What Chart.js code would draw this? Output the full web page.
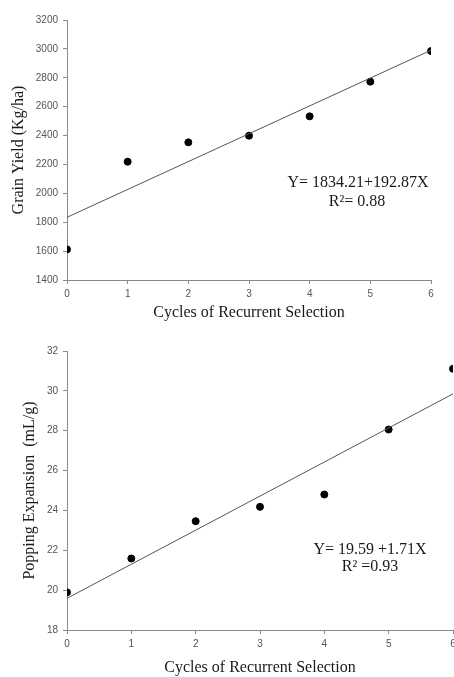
<!DOCTYPE html>
<html>
<head>
<meta charset="utf-8">
<script src="https://cdn.jsdelivr.net/npm/chart.js@4"></script>
<style>
  body { margin: 0; background: #fff; }
  #wrap { position: relative; width: 454px; height: 677px; overflow: hidden; }
  #yieldChart { position: absolute; left: 0; top: 0; }
  #popChart { position: absolute; left: 0; top: 330px; }
</style>
</head>
<body>
<div id="wrap">
  <canvas id="yieldChart" width="454" height="330"></canvas>
  <canvas id="popChart" width="462" height="347"></canvas>
</div>
<script>
// cycles of recurrent selection
const cycles = [0, 1, 2, 3, 4, 5, 6];

// grain yield (Kg/ha)
const grainYield = [1612, 2219, 2353, 2399, 2533, 2773, 2985];
// popping expansion (mL/g)
const poppingExp = [19.89, 21.59, 23.46, 24.18, 24.80, 28.06, 31.11];

// fitted lines, read at x = 0 and x = 6
const trendX = [0, 6];
const yieldTrend = [1834, 2991];
const popTrend = [19.59, 29.85];

const yieldTicks = [1400, 1600, 1800, 2000, 2200, 2400, 2600, 2800, 3000, 3200];
const popTicks = [18, 20, 22, 24, 26, 28, 30, 32];

const axisGray = '#8a8a8a';
const tickFont = { family: 'Liberation Sans', size: 10 };
const titleFont = { family: 'Liberation Serif', size: 16 };

// draws the equation text inside the plot
const equationPlugin = {
    id: 'equation',
    afterDatasetsDraw(chart, args, opts) {
        const ctx = chart.ctx;
        ctx.save();
        ctx.fillStyle = '#1a1a1a';
        ctx.font = '16px "Liberation Serif"';
        ctx.textAlign = 'center';
        ctx.textBaseline = 'middle';
        opts.lines.forEach(l => ctx.fillText(l.text, l.x, l.y));
        ctx.restore();
    }
};

function makeChart(id, values, trend, ticks, yTitle, cfg) {
    const pts = cycles.map((c, i) => ({ x: c, y: values[i] }));
    const line = trendX.map((c, i) => ({ x: c, y: trend[i] }));
    return new Chart(document.getElementById(id), {
        type: 'scatter',
        data: {
            datasets: [
                {
                    type: 'line',
                    data: line,
                    borderColor: '#555',
                    borderWidth: 1,
                    pointRadius: 0,
                    fill: false
                },
                {
                    data: pts,
                    backgroundColor: '#000',
                    borderColor: '#000',
                    pointRadius: 3.5,
                    pointHoverRadius: 3.5
                }
            ]
        },
        options: {
            responsive: false,
            animation: false,
            layout: { padding: cfg.padding },
            plugins: {
                legend: { display: false },
                tooltip: { enabled: false },
                equation: { lines: cfg.lines }
            },
            scales: {
                x: {
                    type: 'linear',
                    min: 0,
                    max: 6,
                    afterFit: s => { s.height = cfg.xHeight; },
                    afterBuildTicks: s => { s.ticks = cycles.map(v => ({ value: v })); },
                    border: { color: axisGray, width: 1 },
                    grid: { drawOnChartArea: false, drawTicks: true, tickLength: 4, color: axisGray },
                    ticks: { font: tickFont, color: '#555', padding: 4, maxRotation: 0, callback: v => String(v) },
                    title: {
                        display: true,
                        text: 'Cycles of Recurrent Selection',
                        font: titleFont,
                        color: '#1a1a1a',
                        padding: { top: 0, bottom: cfg.xTitlePad }
                    }
                },
                y: {
                    min: ticks[0],
                    max: ticks[ticks.length - 1],
                    afterFit: s => { s.width = 67; },
                    afterBuildTicks: s => { s.ticks = ticks.map(v => ({ value: v })); },
                    border: { color: axisGray, width: 1 },
                    grid: { drawOnChartArea: false, drawTicks: true, tickLength: 4, color: axisGray },
                    ticks: { font: tickFont, color: '#555', padding: 5, callback: v => String(v) },
                    title: {
                        display: true,
                        text: yTitle,
                        font: titleFont,
                        color: '#1a1a1a',
                        padding: { top: cfg.yTitlePad, bottom: 0 }
                    }
                }
            }
        },
        plugins: [equationPlugin]
    });
}

makeChart('yieldChart', grainYield, yieldTrend, yieldTicks, 'Grain Yield (Kg/ha)', {
    padding: { top: 20, right: 23, left: 0, bottom: 0 },
    xHeight: 50,
    xTitlePad: 8,
    yTitlePad: 9,
    lines: [
        { text: 'Y= 1834.21+192.87X', x: 358, y: 183 },
        { text: 'R²= 0.88', x: 357, y: 202 }
    ]
});

// this canvas is wider than the page so the last tick sits on the edge, cut off as in the source
makeChart('popChart', poppingExp, popTrend, popTicks, 'Popping Expansion  (mL/g)', {
    padding: { top: 21, right: 9, left: 0, bottom: 0 },
    xHeight: 47,
    xTitlePad: 0,
    yTitlePad: 20,
    lines: [
        { text: 'Y= 19.59 +1.71X', x: 370, y: 220 },
        { text: 'R² =0.93', x: 370, y: 237 }
    ]
});
</script>
</body>
</html>
